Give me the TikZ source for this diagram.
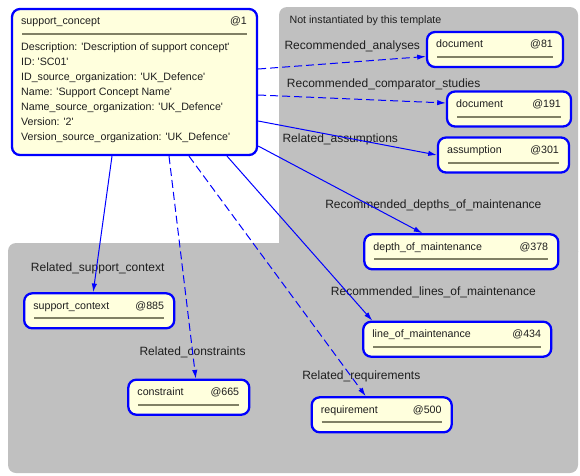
\documentclass[tikz,border=0pt]{standalone}
\usepackage{fontspec}
\setmainfont{Liberation Sans}[Ligatures=TeXOff]
\usetikzlibrary{arrows.meta,positioning}
\newlength{\px}\setlength{\px}{0.75pt}
\definecolor{bggray}{RGB}{192,192,192}
\definecolor{boxfill}{RGB}{255,255,221}
\definecolor{rulecol}{RGB}{128,128,100}
\definecolor{txt}{RGB}{30,30,30}

\begin{document}
\begin{tikzpicture}[x=0.75pt,y=-0.75pt,
	ent/.style 2 args={
		draw=blue, line width=1.7pt, fill=boxfill,
		rounded corners=6pt, minimum height=35\px,
		path picture={\draw[rulecol,line width=1.5pt]
			([shift={(10,25)}]path picture bounding box.north west) --
			([shift={(-10,25)}]path picture bounding box.north east);},
		label={[hd,anchor=base west,shift={(10,17)}]north west:#1},
		label={[hd,anchor=base east,shift={(-11,17)}]north east:#2}
	},
	hd/.style={font=\fontsize{8}{11.25}\selectfont, text=txt, inner sep=0pt},
	lbl/.style={font=\fontsize{9}{11}\selectfont, text=txt, inner sep=0pt, anchor=base west},
	rel/.style={blue, line width=0.75pt, -{Latex[length=6.5pt,width=4pt]}},
	opt/.style={rel, dash pattern=on 6pt off 3pt}
	]
	\useasboundingbox (0,0) rectangle (580,475);
	\fill[bggray,rounded corners=6pt] (279,7) rectangle (578,260);
	\fill[bggray,rounded corners=6pt] (8,243) rectangle (578,473);
	\node[hd,anchor=base west] (grp) at (289.3,23) {Not instantiated by this template};
	
	\node[ent={support\_concept}{@1},minimum width=245\px,minimum height=146\px] 
	(sc) at (134.5,82) {};
	\node[hd,anchor=north west,align=left] (scattr) at ([shift={(10,34.3)}]sc.north west)
	{Description: 'Description of support concept'\\ID: 'SC01'\\
		ID\_source\_organization: 'UK\_Defence'\\Name: 'Support Concept Name'\\
		Name\_source\_organization: 'UK\_Defence'\\Version: '2'\\
		Version\_source\_organization: 'UK\_Defence'};
	
	\node[ent={document}{@81},minimum width=136\px] (doc81) at (495,49.5) {};
	\node[ent={document}{@191},minimum width=124\px] (doc191) at (509,109) {};
	\node[ent={assumption}{@301},minimum width=131\px] (ass) at (503.5,155) {};
	\node[ent={depth\_of\_maintenance}{@378},minimum width=194\px] (dom) at (461.3,251.8) {};
	\node[ent={line\_of\_maintenance}{@434},minimum width=188\px] (lom) at (457.2,339.2) {};
	\node[ent={requirement}{@500},minimum width=140\px] (req) at (381.7,414.8) {};
	\node[ent={support\_context}{@885},minimum width=150\px] (ctx) at (99.2,310.8) {};
	\node[ent={constraint}{@665},minimum width=121\px] (con) at (188.8,397.2) {};
	
	\node[lbl] (lana) at (284.3,49.3) {Recommended\_analyses};
	\node[lbl] (lcmp) at (286.7,87.6) {Recommended\_comparator\_studies};
	\node[lbl] (lass) at (282.3,142) {Related\_assumptions};
	\node[lbl] (ldom) at (325,208.3) {Recommended\_depths\_of\_maintenance};
	\node[lbl] (llom) at (330.7,295.3) {Recommended\_lines\_of\_maintenance};
	\node[lbl] (lreq) at (302,379.3) {Related\_requirements};
	\node[lbl] (lctx) at (30.7,271) {Related\_support\_context};
	\node[lbl] (lcon) at (139.3,355.3) {Related\_constraints};
	
	\draw[opt] ([shift={(0,-13)}]sc.east) -- ([shift={(0,7)}]doc81.west);
	\draw[opt] ([shift={(0,13)}]sc.east) -- ([shift={(0,-6)}]doc191.west);
	\draw[rel] ([shift={(0,39)}]sc.east) -- (ass.west);
	\draw[rel] ([shift={(0,64)}]sc.east) -- ([shift={(-39,0)}]dom.north);
	\draw[rel] ([shift={(92.5,0)}]sc.south) -- ([shift={(-85,0)}]lom.north);
	\draw[opt] ([shift={(54.5,0)}]sc.south) -- ([shift={(-16,0)}]req.north);
	\draw[opt] ([shift={(34.5,0)}]sc.south) -- ([shift={(7,0)}]con.north);
	\draw[rel] ([shift={(-22.5,0)}]sc.south) -- ([shift={(-6,0)}]ctx.north);
\end{tikzpicture}
\end{document}
